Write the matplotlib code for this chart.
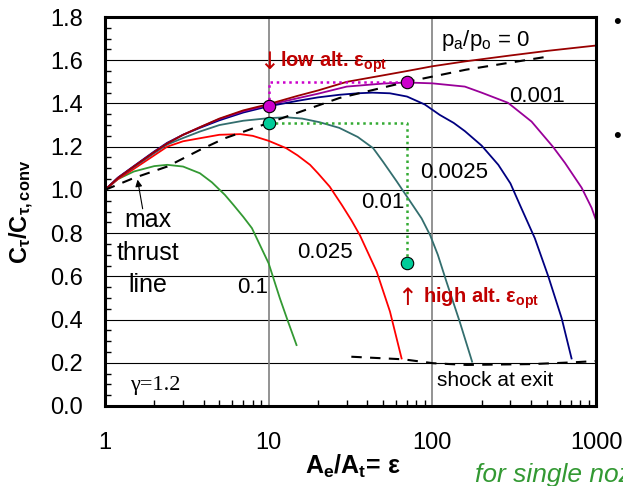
import matplotlib
matplotlib.use("Agg")
import matplotlib.pyplot as plt
from matplotlib.ticker import MultipleLocator, LogLocator, NullFormatter

plt.rcParams['font.family'] = ['Liberation Sans', 'DejaVu Sans']
plt.rcParams['mathtext.fontset'] = 'custom'
plt.rcParams['mathtext.rm'] = 'Liberation Sans'
plt.rcParams['mathtext.it'] = 'Liberation Sans:italic'
plt.rcParams['mathtext.bf'] = 'Liberation Sans:bold'

# thrust coefficient ratio, one curve per pa/po
eps_p0 = [1, 1.2, 1.5, 2, 2.4, 3, 3.8, 5, 7, 10, 15, 20, 30, 50, 70, 100, 160, 300, 500, 1000]
ct_p0 = [1.0, 1.055, 1.108, 1.175, 1.215, 1.255, 1.29, 1.33, 1.368, 1.397, 1.435, 1.46, 1.50,
         1.53, 1.55, 1.572, 1.595, 1.622, 1.643, 1.668]

eps_p001 = [1, 1.2, 1.5, 2, 2.4, 3, 3.8, 5, 7, 10, 15, 20, 30, 50, 70, 100, 158, 200, 290, 404,
            545, 646, 817, 940, 1000]
ct_p001 = [1.0, 1.055, 1.108, 1.175, 1.215, 1.255, 1.29, 1.328, 1.364, 1.393, 1.424, 1.445, 1.478,
           1.492, 1.497, 1.493, 1.478, 1.45, 1.403, 1.316, 1.20, 1.125, 1.01, 0.917, 0.86]

eps_p0025 = [1, 1.2, 1.5, 2, 2.4, 3, 3.8, 5, 7, 10, 15, 20, 27, 35, 43, 55, 70, 90, 111, 135, 158,
             200, 253, 300, 343, 423, 511, 617, 709]
ct_p0025 = [1.0, 1.057, 1.11, 1.178, 1.218, 1.255, 1.287, 1.322, 1.358, 1.387, 1.412, 1.428, 1.44,
            1.447, 1.45, 1.447, 1.432, 1.395, 1.347, 1.31, 1.272, 1.205, 1.116, 1.03, 0.93, 0.776,
            0.60, 0.406, 0.22]

eps_p01 = [1, 1.2, 1.5, 2, 2.4, 3, 3.8, 5, 7, 10, 12.8, 16, 20.5, 27, 35, 43.5, 50, 60.5, 75, 86,
           97, 108, 122, 147, 170, 175]
ct_p01 = [1.0, 1.055, 1.105, 1.17, 1.21, 1.24, 1.27, 1.30, 1.32, 1.332, 1.336, 1.33, 1.313, 1.287,
          1.245, 1.193, 1.13, 1.04, 0.935, 0.868, 0.79, 0.70, 0.575, 0.39, 0.236, 0.205]

eps_p025 = [1, 1.2, 1.5, 2, 2.4, 3, 3.8, 5, 6.7, 8, 10, 12.8, 15, 17.9, 20, 23.6, 28, 32, 36.1,
            45.7, 55.1, 64.9]
ct_p025 = [1.0, 1.05, 1.097, 1.16, 1.20, 1.225, 1.239, 1.255, 1.258, 1.25, 1.227, 1.193, 1.16,
           1.116, 1.077, 1.015, 0.93, 0.86, 0.79, 0.622, 0.437, 0.22]

eps_p1 = [1, 1.2, 1.5, 2, 2.4, 3, 3.8, 4.5, 5.4, 6.1, 7.0, 7.9, 10, 11.7, 13, 14.8]
ct_p1 = [1.0, 1.05, 1.085, 1.11, 1.116, 1.108, 1.077, 1.035, 0.977, 0.93, 0.875, 0.823, 0.66,
         0.499, 0.40, 0.282]

eps_max = [1, 1.5, 2.4, 3.8, 5.4, 10, 27, 70, 160, 510]
ct_max = [1.0, 1.055, 1.108, 1.185, 1.239, 1.31, 1.425, 1.50, 1.556, 1.617]

eps_shock = [32, 66.5, 101, 162, 410, 720, 1000]
ct_shock = [0.228, 0.216, 0.198, 0.19, 0.194, 0.202, 0.208]

# optimum points: low altitude (magenta) and high altitude (teal)
eps_low = [10, 70]
ct_low = [1.39, 1.50]
eps_high = [10, 70]
ct_high = [1.31, 0.66]

fig = plt.figure(figsize=(6.23, 4.86), dpi=100)
ax = fig.add_axes([105 / 623, 1 - 406 / 486, 491 / 623, 389 / 486])

for y in [0.2, 0.4, 0.6, 0.8, 1.0, 1.2, 1.4, 1.6]:
    ax.axhline(y, color='black', lw=0.8, zorder=1)
for x in [10, 100]:
    ax.axvline(x, color='#808080', lw=1.2, zorder=1)

lw = 1.3
ax.plot(eps_p1, ct_p1, color='#339933', lw=lw, zorder=3)
ax.plot(eps_p025, ct_p025, color='#ff0000', lw=lw, zorder=3)
ax.plot(eps_p01, ct_p01, color='#336e6e', lw=lw, zorder=3)
ax.plot(eps_p0025, ct_p0025, color='#000080', lw=lw, zorder=3)
ax.plot(eps_p001, ct_p001, color='#990099', lw=lw, zorder=3)
ax.plot(eps_p0, ct_p0, color='#990000', lw=lw, zorder=3)
ax.plot(eps_max, ct_max, color='black', lw=1.5, ls=(0, (5, 4)), zorder=4)
ax.plot(eps_shock, ct_shock, color='black', lw=1.5, ls=(0, (5, 4)), zorder=4)

# dotted guides to the optimum points
ax.plot([eps_low[0], eps_low[0], eps_low[1]], [ct_low[0], ct_low[1], ct_low[1]],
        color='#cc00cc', lw=1.8, ls=(0, (1, 1.5)), zorder=4)
ax.plot([eps_high[0], eps_high[1], eps_high[1]], [ct_high[0], ct_high[0], ct_high[1]],
        color='#33aa33', lw=1.8, ls=(0, (1, 1.5)), zorder=4)
ax.scatter(eps_low, ct_low, s=80, color='#cc00cc', edgecolor='black', lw=0.8, zorder=5)
ax.scatter(eps_high, ct_high, s=80, color='#00cc99', edgecolor='black', lw=0.8, zorder=5)

ax.set_xscale('log')
ax.set_xlim(1, 1000)
ax.set_ylim(0, 1.8)
ax.set_yticks([0.0, 0.2, 0.4, 0.6, 0.8, 1.0, 1.2, 1.4, 1.6, 1.8])
ax.set_yticklabels(['0.0', '0.2', '0.4', '0.6', '0.8', '1.0', '1.2', '1.4', '1.6', '1.8'])
ax.yaxis.set_minor_locator(MultipleLocator(0.05))
ax.set_xticks([1, 10, 100, 1000])
ax.set_xticklabels(['1', '10', '100', '1000'])
ax.xaxis.set_minor_locator(LogLocator(base=10, subs=range(2, 10)))
ax.xaxis.set_minor_formatter(NullFormatter())
ax.tick_params(axis='both', which='both', direction='in', labelsize=17)
ax.tick_params(axis='y', which='major', length=0, pad=16)
ax.tick_params(axis='y', which='minor', length=4, width=1)
ax.tick_params(axis='x', which='major', length=0, pad=19)
ax.tick_params(axis='x', which='minor', length=4, width=1)
for s in ax.spines.values():
    s.set_linewidth(2.2)
    s.set_zorder(6)

ax.set_ylabel(r'C$_\mathbf{\tau}$/C$_\mathbf{\tau,conv}$', fontsize=17, fontweight='bold')
ax.yaxis.set_label_coords(-0.14, 0.5)
ax.set_xlabel(r'A$_\mathbf{e}$/A$_\mathbf{t}$= ε', fontsize=18, fontweight='bold')
ax.xaxis.set_label_coords(0.505, -0.12)

# curve labels
ax.text(113, 1.69, r'p$_\mathrm{a}$/p$_\mathrm{o}$ = 0', fontsize=16, va='center', ha='left')
ax.text(436, 1.43, '0.001', fontsize=16, va='center', ha='center')
ax.text(135, 1.08, '0.0025', fontsize=16, va='center', ha='center')
ax.text(50, 0.94, '0.01', fontsize=16, va='center', ha='center')
ax.text(22, 0.71, '0.025', fontsize=16, va='center', ha='center')
ax.text(8.0, 0.55, '0.1', fontsize=16, va='center', ha='center')
ax.text(1.83, 0.86, 'max', fontsize=18, va='center', ha='center')
ax.text(1.83, 0.71, 'thrust', fontsize=18, va='center', ha='center')
ax.text(1.83, 0.56, 'line', fontsize=18, va='center', ha='center')
ax.annotate('', xy=(1.57, 1.06), xytext=(1.71, 0.9),
            arrowprops=dict(arrowstyle='-|>', color='black', lw=0.8, mutation_scale=10))
ax.text(2.02, 0.097, 'γ=1.2', fontsize=16, va='center', ha='center',
        family=['Liberation Serif', 'DejaVu Serif'])
ax.text(241, 0.12, 'shock at exit', fontsize=15, va='center', ha='center')

ax.text(10, 1.59, '↓', fontsize=17, color='#c00000', va='center', ha='center',
        family=['DejaVu Sans'], zorder=7)
ax.text(11.7, 1.59, 'low alt. ε$_\\mathbf{opt}$', fontsize=14.5, fontweight='bold',
        color='#c00000', va='center', ha='left', zorder=7)
ax.text(70, 0.50, '↑', fontsize=17, color='#c00000', va='center', ha='center',
        family=['DejaVu Sans'], zorder=7)
ax.text(88, 0.50, 'high alt. ε$_\\mathbf{opt}$', fontsize=14.5, fontweight='bold',
        color='#c00000', va='center', ha='left', zorder=7)

# bits of the slide around the chart
fig.text(617 / 623, 1 - 22 / 486, '•', fontsize=16, va='center', ha='center')
fig.text(617 / 623, 1 - 137 / 486, '•', fontsize=16, va='center', ha='center')
fig.text(475 / 623, 1 - 475 / 486, 'for single nozzle', fontsize=19, style='italic',
         color='#339933', va='center', ha='left')

fig.savefig('out.png', dpi=100)
